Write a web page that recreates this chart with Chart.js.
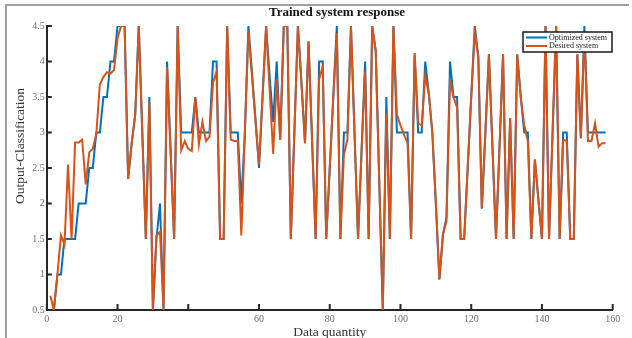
<!DOCTYPE html>
<html>
<head>
<meta charset="utf-8">
<script src="https://cdn.jsdelivr.net/npm/chart.js@4.4.1/dist/chart.umd.min.js"></script>
<style>
  body { margin: 0; background: #fff; }
  #wrap { position: relative; width: 632px; height: 338px; }
  #frame { position: absolute; left: 5px; top: 4px; width: 622px; height: 340px;
           border-top: 2px solid #a0a0a0; border-left: 2px solid #a0a0a0; pointer-events: none; }
</style>
</head>
<body>
<div id="wrap">
  <canvas id="myChart" width="632" height="338"></canvas>
  <div id="frame"></div>
</div>
<script>
"use strict"

// CHART TEXTS
const chartTitle = 'Trained system response';
const xTitle = 'Data quantity';
const yTitle = 'Output-Classification';
const seriesNames = ['Optimized system', 'Desired system'];

// SERIES VALUES (ONE VALUE PER SAMPLE, SAMPLE 1 .. 158)
const optimized = [
    0.5, 0.5, 1.0, 1.0, 1.5, 1.5, 1.5, 1.5, 2.0, 2.0, 2.0, 2.5, 2.5, 3.0, 3.0, 3.5, 3.5, 4.0, 4.0, 4.5, 4.5, 4.5,
    2.35, 2.85, 3.25, 4.5, 3.0, 1.5, 3.5, 0.5,
    1.5, 2.0, 0.5, 4.0, 2.75, 1.5, 4.5, 3.0, 3.0, 3.0,
    3.0, 3.5, 3.0, 3.0, 3.0, 3.0, 4.0, 4.0, 1.5, 1.5,
    4.5, 3.0, 3.0, 3.0, 2.0, 3.0, 4.5, 3.85, 3.2, 2.5,
    3.5, 4.5, 3.8, 3.15, 4.0, 2.9, 4.5, 4.5, 1.5, 3.0,
    4.5, 3.7, 2.85, 4.28, 2.9, 1.5, 4.0, 4.0, 1.5, 2.5,
    3.5, 4.5, 1.5, 3.0, 3.0, 4.5, 3.0, 1.5, 2.75, 4.0,
    1.5, 4.5, 4.15, 2.3, 0.5, 3.5, 1.5, 4.5, 3.0, 3.0,
    3.0, 3.0, 1.5, 4.1, 3.0, 3.0, 4.0, 3.55, 3.0, 2.0,
    0.93, 1.56, 1.8, 4.0, 3.5, 3.5, 1.5, 1.5, 2.5, 3.5,
    4.5, 4.07, 1.93, 3.0, 4.1, 2.8, 1.5, 2.8, 4.1, 1.5,
    3.2, 1.5, 4.1, 3.5, 3.0, 3.0, 1.5, 2.62, 2.05, 1.5,
    4.5, 1.5, 3.0, 4.5, 1.5, 3.0, 3.0, 1.5, 1.5, 4.1,
    2.92, 4.5, 3.0, 3.0, 3.0, 3.0, 3.0, 3.0
];

const desired = [
    0.7, 0.5, 1.0, 1.55, 1.42, 2.55, 1.5, 2.86, 2.86, 2.9, 2.27, 2.72, 2.77, 2.98, 3.68, 3.78, 3.85, 3.83, 3.88, 4.33, 4.5, 4.5,
    2.35, 2.85, 3.25, 4.5, 3.0, 1.5, 3.42, 0.5,
    1.55, 1.6, 0.5, 3.92, 2.75, 1.5, 4.5, 2.75, 2.88, 2.77,
    2.74, 3.5, 2.83, 3.15, 2.88, 2.94, 3.7, 3.86, 1.5, 1.5,
    4.5, 2.9, 2.88, 2.88, 1.55, 3.0, 4.42, 3.8, 3.15, 2.55,
    3.5, 4.5, 3.6, 2.7, 3.75, 2.9, 4.5, 4.5, 1.5, 3.0,
    4.5, 3.7, 2.85, 4.28, 2.9, 1.5, 3.75, 3.93, 1.5, 2.5,
    3.5, 4.4, 1.5, 2.69, 2.9, 4.5, 3.0, 1.5, 2.75, 3.86,
    1.5, 4.5, 4.15, 2.3, 0.5, 3.27, 1.5, 4.5, 3.25, 3.1,
    2.97, 2.85, 1.5, 4.12, 3.13, 3.1, 3.8, 3.55, 3.0, 2.0,
    0.93, 1.56, 1.75, 3.72, 3.5, 3.35, 1.5, 1.5, 2.5, 3.5,
    4.4, 4.07, 1.93, 3.0, 4.1, 2.8, 1.5, 2.8, 4.1, 1.5,
    3.2, 1.5, 4.1, 3.5, 3.1, 2.88, 1.5, 2.62, 2.05, 1.5,
    4.5, 1.5, 3.0, 4.5, 1.5, 2.9, 2.88, 1.5, 1.5, 4.1,
    2.92, 4.4, 2.88, 2.88, 3.13, 2.8, 2.85, 2.85
];

// AXIS RANGES AND TICK STEPS
const xRange = [0, 160];
const xStep = 20;
const xHiddenLabels = [40];   // the source picture shows no "40" label
const yRange = [0.5, 4.5];
const yStep = 0.5;

const colors = ['#0072BD', '#D95319'];
const serif = '"Liberation Serif", "DejaVu Serif", serif';

// SAMPLE NUMBERS ON THE X AXIS
let samples = [];
for (let i = 1; i <= optimized.length; i++) {
    samples.push(i);
}

function toPoints(values) {
    return values.map((v, i) => ({ x: samples[i], y: v }));
}

// DRAWS THE MATLAB-LIKE EXTRAS: INWARD TICKS, TITLE, Y TITLE AND LEGEND BOX
const matlabLook = {
    id: 'matlabLook',
    afterDraw(chart) {
        const { ctx, chartArea, scales } = chart;
        ctx.save();

        // tick marks pointing into the plot
        ctx.strokeStyle = '#262626';
        ctx.lineWidth = 2;
        ctx.beginPath();
        scales.x.ticks.forEach(t => {
            const px = scales.x.getPixelForValue(t.value);
            ctx.moveTo(px, chartArea.bottom);
            ctx.lineTo(px, chartArea.bottom - 6);
        });
        scales.y.ticks.forEach(t => {
            const py = scales.y.getPixelForValue(t.value);
            ctx.moveTo(chartArea.left, py);
            ctx.lineTo(chartArea.left + 5, py);
        });
        ctx.stroke();

        // title
        ctx.fillStyle = '#111';
        ctx.font = 'bold 13px ' + serif;
        ctx.textAlign = 'center';
        ctx.textBaseline = 'middle';
        ctx.fillText(chartTitle, 337, 13);

        // y axis title
        ctx.save();
        ctx.translate(20.5, 146);
        ctx.rotate(-Math.PI / 2);
        ctx.fillStyle = '#333';
        ctx.font = '13.5px ' + serif;
        ctx.fillText(yTitle, 0, 0);
        ctx.restore();

        // legend box
        const box = { x: 523, y: 32, w: 89, h: 20 };
        ctx.fillStyle = '#fff';
        ctx.fillRect(box.x, box.y, box.w, box.h);
        ctx.strokeStyle = '#1a1a1a';
        ctx.lineWidth = 1.5;
        ctx.strokeRect(box.x, box.y, box.w, box.h);

        ctx.font = '8px ' + serif;
        ctx.textAlign = 'left';
        const legendOrder = [0, 1];
        legendOrder.forEach((k, row) => {
            const ds = chart.data.datasets.find(d => d.label === seriesNames[k]);
            const y = box.y + 5.5 + row * 8.5;
            ctx.strokeStyle = ds.borderColor;
            ctx.lineWidth = 2;
            ctx.beginPath();
            ctx.moveTo(box.x + 3, y);
            ctx.lineTo(box.x + 24, y);
            ctx.stroke();
            ctx.fillStyle = '#222';
            ctx.fillText(ds.label, box.x + 26, y);
        });

        ctx.restore();
    }
};

// DATA OF THE CHART
let data = {
    datasets: [{
        label: seriesNames[1],
        data: toPoints(desired),
        borderColor: colors[1],
        backgroundColor: colors[1],
        borderWidth: 2,
        pointRadius: 0,
        fill: false,
        order: 0
    }, {
        label: seriesNames[0],
        data: toPoints(optimized),
        borderColor: colors[0],
        backgroundColor: colors[0],
        borderWidth: 2,
        pointRadius: 0,
        fill: false,
        order: 1
    }]
};

// CONFIG OF THE CHART
let config = {
    type: 'line',
    data: data,
    plugins: [matlabLook],
    options: {
        responsive: false,
        animation: false,
        devicePixelRatio: 1,
        layout: { padding: { left: 0, top: 26, right: 19.3, bottom: 0 } },
        plugins: {
            legend: { display: false },
            title: { display: false },
            tooltip: { enabled: false }
        },
        scales: {
            x: {
                type: 'linear',
                min: xRange[0],
                max: xRange[1],
                grid: { display: false, drawTicks: false },
                border: { display: true, color: '#262626', width: 2 },
                ticks: {
                    stepSize: xStep,
                    padding: 3,
                    color: '#707070',
                    font: { family: serif, size: 10 },
                    maxRotation: 0,
                    callback: (v) => xHiddenLabels.includes(v) ? '' : String(v)
                },
                title: {
                    display: true,
                    text: xTitle,
                    color: '#333',
                    font: { family: serif, size: 13.5 },
                    padding: { top: 0, bottom: -3 }
                },
                afterFit: (scale) => { scale.height = 28; }
            },
            y: {
                min: yRange[0],
                max: yRange[1],
                grid: { display: false, drawTicks: false },
                border: { display: true, color: '#262626', width: 2 },
                ticks: {
                    stepSize: yStep,
                    padding: 2,
                    color: '#707070',
                    font: { family: serif, size: 10 },
                    callback: (v) => String(v)
                },
                afterFit: (scale) => { scale.width = 46.8; }
            }
        }
    }
};

//  initialize Chart
let myChart = new Chart(
    document.getElementById('myChart'),
    config
);
</script>
</body>
</html>
